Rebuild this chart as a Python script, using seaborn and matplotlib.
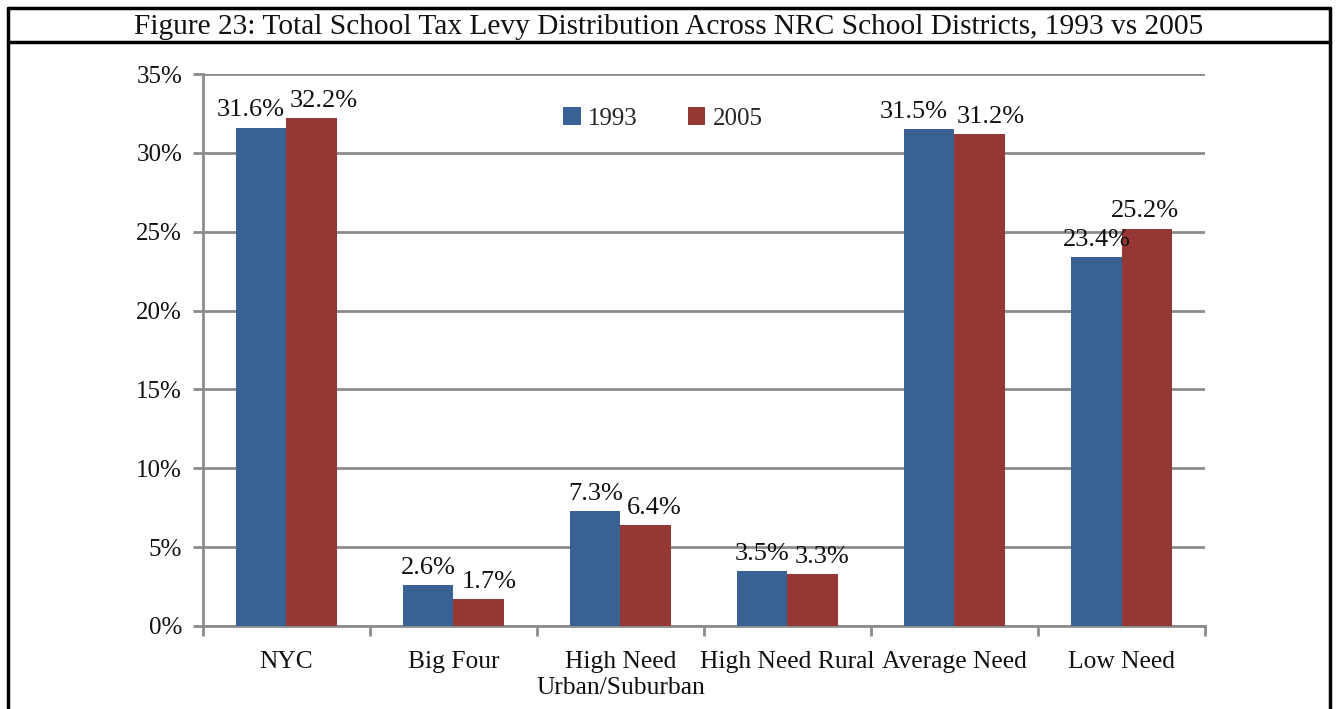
import matplotlib
matplotlib.use("Agg")
import matplotlib.pyplot as plt
from matplotlib.lines import Line2D
from matplotlib.ticker import FixedLocator, PercentFormatter
import seaborn as sns
import pandas as pd

categories = ["NYC", "Big Four", "High Need\nUrban/Suburban", "High Need Rural",
              "Average Need", "Low Need"]
share_1993 = [31.6, 2.6, 7.3, 3.5, 31.5, 23.4]
share_2005 = [32.2, 1.7, 6.4, 3.3, 31.2, 25.2]
years = ["1993", "2005"]
colors = ["#3A6194", "#953735"]

# Horizontal nudges (points) that keep neighbouring value labels apart
label_nudge = {
    "1993": [-8, 0, 0, 0, -11, 0],
    "2005": [9, 8, 6, 7, 8, -1],
}

df = pd.DataFrame({
    "District": categories * 2,
    "Year": [years[0]] * len(categories) + [years[1]] * len(categories),
    "Share": share_1993 + share_2005,
})

sns.set_theme(style="white")
plt.rcParams["font.family"] = ["Liberation Serif", "DejaVu Serif"]

fig = plt.figure(figsize=(13.38, 7.09), dpi=100)
ax = fig.add_axes([0.1517, 0.1171, 0.7489, 0.7785])

sns.barplot(data=df, x="District", y="Share", hue="Year", order=categories,
            hue_order=years, palette=colors, width=0.6, saturation=1,
            errorbar=None, linewidth=0, ax=ax, zorder=3)

for year, container in zip(years, ax.containers):
    texts = ax.bar_label(container, fmt="%.1f%%", padding=4.5, fontsize=19,
                         color="#111111", zorder=4)
    for txt, dx in zip(texts, label_nudge[year]):
        x0, y0 = txt.xyann
        txt.xyann = (x0 + dx, y0)

ax.set_ylim(0, 35)
ax.set_xlim(-0.5, len(categories) - 0.5)
ax.yaxis.set_major_locator(FixedLocator(range(0, 36, 5)))
ax.yaxis.set_major_formatter(PercentFormatter(decimals=0))
ax.grid(axis="y", color="#8C8C8C", linewidth=2, zorder=0)
ax.set_axisbelow(True)
ax.set_xlabel("")
ax.set_ylabel("")

ax.xaxis.set_minor_locator(FixedLocator([i - 0.5 for i in range(len(categories) + 1)]))
ax.tick_params(axis="x", which="major", length=0, pad=18, labelsize=18.4,
               labelcolor="#111111")
ax.tick_params(axis="x", which="minor", length=7, width=2, color="#8C8C8C",
               direction="out", bottom=True)
ax.tick_params(axis="y", which="major", length=7, width=2, color="#8C8C8C",
               direction="out", left=True, pad=8, labelsize=18,
               labelcolor="#111111")
for lbl in ax.get_xticklabels():
    lbl.set_linespacing(1.25)

for side in ["top", "right"]:
    ax.spines[side].set_visible(False)
for side in ["left", "bottom"]:
    ax.spines[side].set_color("#8C8C8C")
    ax.spines[side].set_linewidth(2)

leg = ax.legend(loc="center", bbox_to_anchor=(0.459, 0.919), ncol=2, frameon=False,
                fontsize=18, handlelength=0.7, handleheight=0.7,
                handletextpad=0.3, columnspacing=2.0)

fig.text(0.5, 0.962, "Figure 23: Total School Tax Levy Distribution Across NRC "
         "School Districts, 1993 vs 2005", ha="center", va="center",
         fontsize=21.2, color="#111111")

# Outer frame and title separator
frame = dict(color="black", linewidth=2.5, transform=fig.transFigure)
fig.add_artist(Line2D([0.006, 0.994], [0.989, 0.989], **frame))
fig.add_artist(Line2D([0.006, 0.994], [0.941, 0.941], **frame))
fig.add_artist(Line2D([0.006, 0.006], [0.0, 0.989], **frame))
fig.add_artist(Line2D([0.994, 0.994], [0.0, 0.989], **frame))

fig.savefig("out.png", dpi=100)
